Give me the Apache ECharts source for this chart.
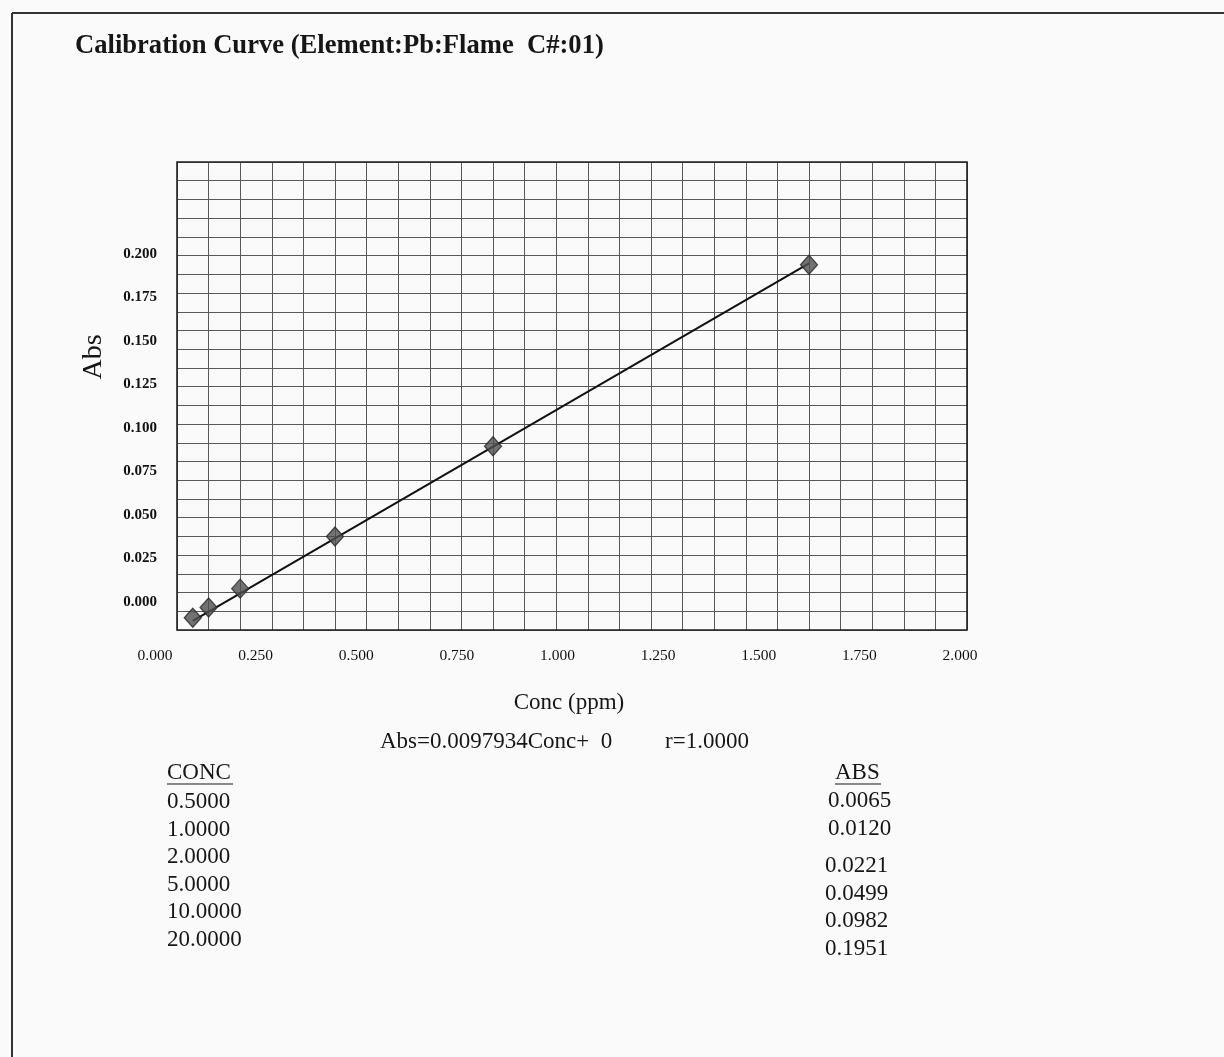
<!DOCTYPE html>
<html>
<head>
<meta charset="utf-8">
<title>Calibration Curve</title>
<script src="https://cdn.jsdelivr.net/npm/echarts@6/dist/echarts.min.js"></script>
<style>
  html, body { margin: 0; padding: 0; background: #fafafa; }
  #chart { width: 1224px; height: 1057px; }
</style>
</head>
<body>
<div id="chart"></div>
<script>
// Standards: concentration (ppm) and measured absorbance
const concValues = [0.5, 1.0, 2.0, 5.0, 10.0, 20.0];
const absValues = [0.0065, 0.0120, 0.0221, 0.0499, 0.0982, 0.1951];

// Linear fit through the origin
const slope = 0.0097934;
const intercept = 0;
const rValue = '1.0000';

// Printed tick labels
const xTickLabels = ['0.000', '0.250', '0.500', '0.750', '1.000', '1.250', '1.500', '1.750', '2.000'];
const yTickLabels = ['0.000', '0.025', '0.050', '0.075', '0.100', '0.125', '0.150', '0.175', '0.200'];

const titleText = 'Calibration Curve (Element:Pb:Flame  C#:01)';
const xName = 'Conc (ppm)';
const yName = 'Abs';

const SERIF = '"Liberation Serif", "Times New Roman", serif';
const INK = '#161616';

const chart = echarts.init(document.getElementById('chart'), null, { renderer: 'canvas' });

const points = concValues.map((c, i) => [c, absValues[i]]);
const cMin = Math.min(...concValues);
const cMax = Math.max(...concValues);
const fitLine = [[cMin, slope * cMin + intercept], [cMax, slope * cMax + intercept]];

// Plot box geometry
const plot = { left: 177, top: 162, width: 790, height: 468 };

function txt(x, y, text, size, opts) {
  opts = opts || {};
  return {
    type: 'text', x: x, y: y, z: 10, rotation: opts.rotation || 0,
    style: {
      text: text,
      font: (opts.weight || 'normal') + ' ' + size + 'px ' + SERIF,
      fill: INK,
      textAlign: opts.align || 'left',
      textVerticalAlign: 'middle'
    }
  };
}
function hline(x1, x2, y, w) {
  return { type: 'line', z: 10, shape: { x1: x1, y1: y, x2: x2, y2: y }, style: { stroke: INK, lineWidth: w || 1.2 } };
}

const graphics = [];
// page frame
graphics.push({ type: 'line', shape: { x1: 12, y1: 13, x2: 12, y2: 1057 }, style: { stroke: '#333', lineWidth: 2 } });
graphics.push({ type: 'line', shape: { x1: 12, y1: 13, x2: 1224, y2: 13 }, style: { stroke: '#333', lineWidth: 2 } });

graphics.push(txt(75, 46, titleText, 26.6, { weight: 'bold' }));
graphics.push(txt(94, 357, yName, 28, { align: 'center', rotation: Math.PI / 2 }));
graphics.push(txt(569, 703, xName, 23, { align: 'center' }));
graphics.push(txt(380, 742, 'Abs=' + slope + 'Conc+  ' + intercept, 23));
graphics.push(txt(665, 742, 'r=' + rValue, 23));

// data table
graphics.push(txt(167, 773, 'CONC', 23));
graphics.push(hline(167, 233, 784));
graphics.push(txt(835, 773, 'ABS', 23));
graphics.push(hline(835, 881, 784));
concValues.forEach((c, i) => {
  graphics.push(txt(167, 802 + i * 27.6, c.toFixed(4), 23));
});
absValues.forEach((a, i) => {
  const shifted = i >= 2;
  graphics.push(txt(shifted ? 825 : 828, 801 + i * 27.5 + (shifted ? 10 : 0), a.toFixed(4), 23));
});

const labelFont = { fontFamily: SERIF, fontSize: 15.5, color: '#111' };

const option = {
  backgroundColor: '#fafafa',
  animation: false,
  grid: [
    { left: plot.left, top: plot.top, width: plot.width, height: plot.height,
      show: true, borderColor: '#222', borderWidth: 1.6, backgroundColor: 'transparent', z: 3 },
    { left: 155, top: plot.top, width: 805, height: plot.height },
    { left: plot.left, top: 254, width: plot.width, height: 348 }
  ],
  xAxis: [
    { type: 'value', gridIndex: 0, min: 0, max: 25, interval: 1,
      axisLine: { show: false }, axisTick: { show: false }, axisLabel: { show: false },
      splitLine: { show: true, lineStyle: { color: '#585858', width: 1 } } },
    { type: 'category', gridIndex: 1, data: xTickLabels, boundaryGap: false, position: 'bottom',
      axisLine: { show: false }, axisTick: { show: false }, splitLine: { show: false },
      axisLabel: Object.assign({ interval: 0, margin: 18 }, labelFont) },
    { type: 'value', gridIndex: 2, show: false }
  ],
  yAxis: [
    { type: 'value', gridIndex: 0, min: 0, max: 0.25, interval: 0.01,
      axisLine: { show: false }, axisTick: { show: false }, axisLabel: { show: false },
      splitLine: { show: true, lineStyle: { color: '#585858', width: 1 } } },
    { type: 'value', gridIndex: 1, show: false },
    { type: 'category', gridIndex: 2, data: yTickLabels, boundaryGap: false, position: 'left',
      axisLine: { show: false }, axisTick: { show: false }, splitLine: { show: false },
      axisLabel: Object.assign({ interval: 0, margin: 20, fontWeight: 'bold' }, labelFont, { fontSize: 15 }) }
  ],
  series: [
    { name: 'fit', type: 'line', xAxisIndex: 0, yAxisIndex: 0, data: fitLine,
      showSymbol: false, lineStyle: { color: '#111', width: 2 }, z: 4 },
    { name: 'standards', type: 'scatter', xAxisIndex: 0, yAxisIndex: 0, data: points,
      symbol: 'diamond', symbolSize: [17, 19],
      itemStyle: { color: '#505050', borderColor: '#262626', borderWidth: 1.3 }, z: 5 }
  ],
  graphic: graphics
};

chart.setOption(option);
</script>
</body>
</html>
